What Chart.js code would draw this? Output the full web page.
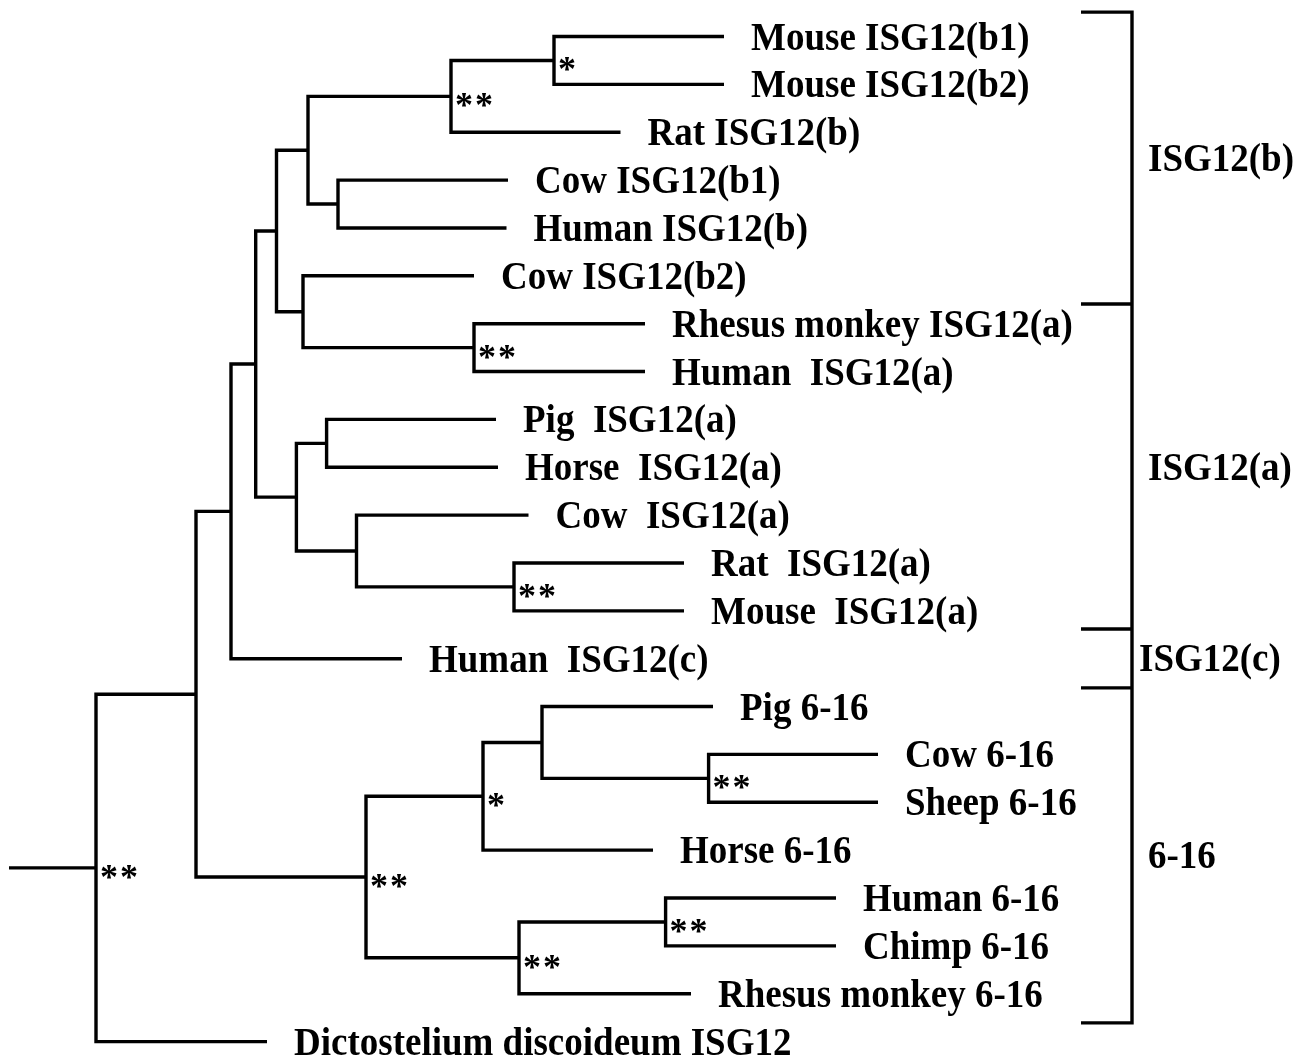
<!DOCTYPE html>
<html>
<head>
<meta charset="utf-8">
<script src="https://cdn.jsdelivr.net/npm/chart.js@4.4.1/dist/chart.umd.min.js"></script>
<style>
html,body{margin:0;padding:0;background:#fff;}
#wrap{width:1295px;height:1059px;position:relative;}
</style>
</head>
<body>
<div id="wrap"><canvas id="c"></canvas></div>
<script>
// ---- DATA ----
// Leaves in top-to-bottom order (y = order index)
const leafLabels = [
  'Mouse ISG12(b1)', 'Mouse ISG12(b2)', 'Rat ISG12(b)', 'Cow ISG12(b1)', 'Human ISG12(b)',
  'Cow ISG12(b2)', 'Rhesus monkey ISG12(a)', 'Human  ISG12(a)', 'Pig  ISG12(a)', 'Horse  ISG12(a)',
  'Cow  ISG12(a)', 'Rat  ISG12(a)', 'Mouse  ISG12(a)', 'Human  ISG12(c)', 'Pig 6-16',
  'Cow 6-16', 'Sheep 6-16', 'Horse 6-16', 'Human 6-16', 'Chimp 6-16',
  'Rhesus monkey 6-16', 'Dictostelium discoideum ISG12'
];
// cumulative distance from the left edge at each leaf tip
const leafTipX = [724, 724, 620.5, 508, 506.5, 474, 645, 645, 496, 498, 528.5, 684, 684, 402, 713, 878, 878, 653, 836, 836, 691, 267];

// Internal nodes (children before parents); 'L#' = leaf, 'N#' = internal node
const nodeChildren = [
  ['L0', 'L1'],    // N0
  ['N0', 'L2'],    // N1
  ['L3', 'L4'],    // N2
  ['N1', 'N2'],    // N3
  ['L6', 'L7'],    // N4
  ['L5', 'N4'],    // N5
  ['N3', 'N5'],    // N6
  ['L8', 'L9'],    // N7
  ['L11', 'L12'],  // N8
  ['L10', 'N8'],   // N9
  ['N7', 'N9'],    // N10
  ['N6', 'N10'],   // N11
  ['N11', 'L13'],  // N12
  ['L15', 'L16'],  // N13
  ['L14', 'N13'],  // N14
  ['N14', 'L17'],  // N15
  ['L18', 'L19'],  // N16
  ['N16', 'L20'],  // N17
  ['N15', 'N17'],  // N18
  ['N12', 'N18'],  // N19
  ['N19', 'L21']   // N20 (root)
];
// cumulative distance of each internal node
const nodeX = [554, 451, 338, 308, 474, 303, 276.5, 326.6, 514, 356.5, 296.4, 255.7, 231, 708.6, 542, 483, 665.6, 519, 366, 196, 96];
// bootstrap support marks
const nodeSupport = ['*', '**', '', '', '**', '', '', '', '**', '', '', '', '', '**', '', '*', '**', '**', '**', '', '**'];
const rootStubX = 9;

// Clade groups (bracket on the right), boundaries in leaf-order units
const groupLabels = ['ISG12(b)', 'ISG12(a)', 'ISG12(c)', '6-16'];
const groupBounds = [-0.51, 5.59, 12.38, 13.61, 20.61];

// ---- LAYOUT / STYLE ----
const LINE_W = 3.4;
const LABEL_GAP = 27;
const LABEL_FONT = 'bold 40px "Liberation Serif", "Times New Roman", serif';
const LABEL_SX = 0.925;   // slight horizontal condensation of the label face
const STAR_FONT = 'bold 36px "Liberation Serif", "Times New Roman", serif';
const STAR_STEP = 20;
const BRACKET_X = 1132, BRACKET_TICK_X = 1081;
const GROUP_LABEL_X = [1148, 1148, 1139, 1148];

// ---- build geometry from data ----
const leafY = leafLabels.map((_, i) => i);
const nodeY = [];
function posOf(ref) {
  const k = parseInt(ref.slice(1), 10);
  return ref[0] === 'L' ? {x: leafTipX[k], y: leafY[k]} : {x: nodeX[k], y: nodeY[k]};
}
nodeChildren.forEach((ch, k) => {
  const a = posOf(ch[0]), b = posOf(ch[1]);
  nodeY[k] = (a.y + b.y) / 2;
});

const lineStyle = {
  showLine: true, pointRadius: 0, pointHoverRadius: 0, borderColor: '#000',
  backgroundColor: '#000', borderWidth: LINE_W, fill: false, tension: 0,
  borderJoinStyle: 'miter', borderCapStyle: 'butt', clip: false
};
const datasets = [];
nodeChildren.forEach((ch, k) => {
  const a = posOf(ch[0]), b = posOf(ch[1]);
  datasets.push(Object.assign({
    data: [{x: a.x, y: a.y}, {x: nodeX[k], y: a.y}, {x: nodeX[k], y: b.y}, {x: b.x, y: b.y}]
  }, lineStyle));
});
const rootK = nodeChildren.length - 1;
datasets.push(Object.assign({
  data: [{x: rootStubX, y: nodeY[rootK]}, {x: nodeX[rootK], y: nodeY[rootK]}]
}, lineStyle));
// bracket
const nB = groupBounds.length;
datasets.push(Object.assign({
  data: [{x: BRACKET_TICK_X, y: groupBounds[0]}, {x: BRACKET_X, y: groupBounds[0]},
         {x: BRACKET_X, y: groupBounds[nB - 1]}, {x: BRACKET_TICK_X, y: groupBounds[nB - 1]}]
}, lineStyle));
for (let i = 1; i < nB - 1; i++) {
  datasets.push(Object.assign({
    data: [{x: BRACKET_TICK_X, y: groupBounds[i]}, {x: BRACKET_X, y: groupBounds[i]}]
  }, lineStyle));
}

function drawLabel(ctx, text, px, py) {
  ctx.save();
  ctx.translate(px, py);
  ctx.scale(LABEL_SX, 1);
  ctx.fillText(text, 0, 0);
  ctx.restore();
}

const treeText = {
  id: 'treeText',
  afterDatasetsDraw(chart) {
    const {ctx, scales: {x, y}} = chart;
    ctx.save();
    ctx.fillStyle = '#000';
    ctx.textAlign = 'left';
    ctx.textBaseline = 'alphabetic';
    ctx.font = LABEL_FONT;
    leafLabels.forEach((t, i) => {
      drawLabel(ctx, t, x.getPixelForValue(leafTipX[i]) + LABEL_GAP, y.getPixelForValue(leafY[i]) + 13);
    });
    groupLabels.forEach((t, i) => {
      const mid = (groupBounds[i] + groupBounds[i + 1]) / 2;
      drawLabel(ctx, t, GROUP_LABEL_X[i], y.getPixelForValue(mid) + 13);
    });
    ctx.font = STAR_FONT;
    nodeSupport.forEach((s, k) => {
      if (!s) return;
      const px = x.getPixelForValue(nodeX[k]) + 4;
      const py = y.getPixelForValue(nodeY[k]) + 21;
      [...s].forEach((c, j) => ctx.fillText(c, px + j * STAR_STEP, py));
    });
    ctx.restore();
  }
};

new Chart(document.getElementById('c'), {
  type: 'scatter',
  data: {datasets},
  options: {
    responsive: true,
    maintainAspectRatio: false,
    animation: false,
    events: [],
    layout: {padding: 0},
    plugins: {legend: {display: false}, tooltip: {enabled: false}, title: {display: false}},
    scales: {
      x: {type: 'linear', min: 0, max: 1295, display: false},
      y: {type: 'linear', min: -0.763, max: 21.364, reverse: true, display: false}
    }
  },
  plugins: [treeText]
});
</script>
</body>
</html>
